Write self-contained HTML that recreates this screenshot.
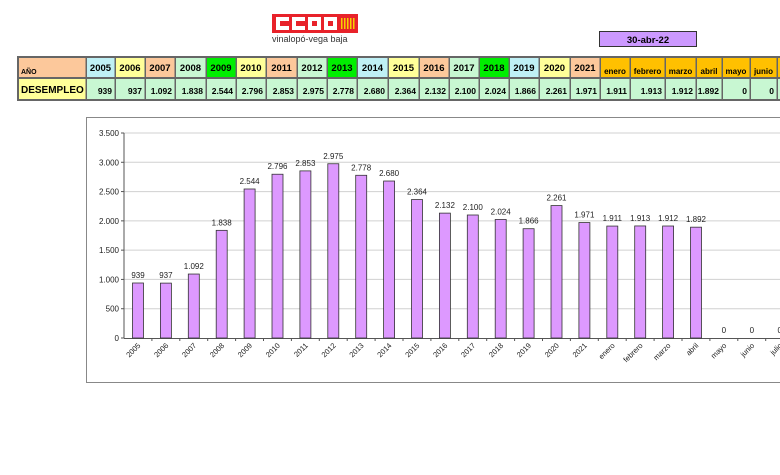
<!DOCTYPE html>
<html><head><meta charset="utf-8"><style>
body{margin:0;background:#fff;width:780px;height:470px;overflow:hidden;font-family:"Liberation Sans",Arial,sans-serif}
</style></head><body>
<svg id="s" width="780" height="470" xmlns="http://www.w3.org/2000/svg" font-family="Liberation Sans, Arial, sans-serif"></svg>
<script>
var s=document.getElementById('s'),h='';
// logo
h+='<rect x="272" y="14" width="86" height="19" fill="#e8222a"/>';
var lx=[276,292,308,324];
for(var i=0;i<4;i++){h+='<rect x="'+lx[i]+'" y="17" width="13" height="13" fill="#fff"/>';
 if(i<2)h+='<rect x="'+(lx[i]+4)+'" y="21" width="9" height="5" fill="#e8222a"/>';else h+='<rect x="'+(lx[i]+4)+'" y="21" width="5" height="5" fill="#e8222a"/>';}
for(var i=0;i<5;i++)h+='<rect x="'+(341+i*3)+'" y="18" width="1.5" height="11" fill="#f5d000"/>';
h+='<text x="272" y="42" font-size="9" fill="#333">vinalopó-vega baja</text>';
// date box
h+='<rect x="599.5" y="31.5" width="97" height="15" fill="#cc99ff" stroke="#333"/>';
h+='<text x="648" y="43" font-size="9.5" font-weight="bold" text-anchor="middle">30-abr-22</text>';
// table
var cols=[[18,86],[86,115],[115,145],[145,175],[175,206],[206,236],[236,266],[266,297],[297,327],[327,357],[357,388],[388,419],[419,449],[449,479],[479,509],[509,539],[539,570],[570,600],[600,630],[630,665],[665,696],[696,722],[722,750],[750,777],[777,800]];
var lab=['AÑO','2005','2006','2007','2008','2009','2010','2011','2012','2013','2014','2015','2016','2017','2018','2019','2020','2021','enero','febrero','marzo','abril','mayo','junio','julio'];
var vals=['DESEMPLEO','939','937','1.092','1.838','2.544','2.796','2.853','2.975','2.778','2.680','2.364','2.132','2.100','2.024','1.866','2.261','1.971','1.911','1.913','1.912','1.892','0','0','0'];
var C='#bff0f5',Y='#ffff99',P='#fcc89b',M='#c8f7d2',G='#00ee00',O='#ffc000';
var c1=['#fcc89b',C,Y,P,M,G,Y,P,M,G,C,Y,P,M,G,C,Y,P,O,O,O,O,O,O,O];
h+='<rect x="17" y="56" width="770" height="45" fill="#666"/>';
for(var i=0;i<cols.length;i++){var a=cols[i][0]+1,w=cols[i][1]-cols[i][0]-1.5;
 h+='<rect x="'+a+'" y="58" width="'+w+'" height="19" fill="'+c1[i]+'"/>';
 h+='<rect x="'+a+'" y="79" width="'+w+'" height="20" fill="'+(i==0?Y:M)+'"/>';
 if(i==0){h+='<text x="21" y="74" font-size="7" font-weight="bold">AÑO</text><text x="21" y="93" font-size="10" font-weight="bold">DESEMPLEO</text>';}
 else{var mon=i>=18;
 h+='<text x="'+(mon?(cols[i][0]+cols[i][1])/2:(cols[i][0]+cols[i][1])/2)+'" y="'+(mon?74:71)+'" font-size="'+(mon?8:9.5)+'" font-weight="bold" text-anchor="middle">'+lab[i]+'</text>';
 h+='<text x="'+(cols[i][1]-3)+'" y="94" font-size="8.5" font-weight="bold" text-anchor="end">'+vals[i]+'</text>';}
}
// chart box
h+='<rect x="86.5" y="117.5" width="700" height="265" fill="#fff" stroke="#888"/>';
var y0=338,k=205/3500;
for(var v=0;v<=3500;v+=500){var y=y0-v*k;
 if(v>0)h+='<line x1="124" x2="790" y1="'+y+'" y2="'+y+'" stroke="#d0d0d0"/>';
 h+='<line x1="121" x2="124" y1="'+y+'" y2="'+y+'" stroke="#555"/>';
 h+='<text x="119" y="'+(y+3)+'" font-size="8" text-anchor="end" fill="#222">'+(v>=1000?Math.floor(v/1000)+'.'+String(v%1000).padStart(3,'0'):v)+'</text>';}
h+='<line x1="124" x2="124" y1="133" y2="338" stroke="#555"/><line x1="124" x2="790" y1="338.5" y2="338.5" stroke="#555"/>';
var nums=[939,937,1092,1838,2544,2796,2853,2975,2778,2680,2364,2132,2100,2024,1866,2261,1971,1911,1913,1912,1892,0,0,0];
var sp=27.9;
for(var i=0;i<24;i++){var cx=138+i*sp,v=nums[i],y=y0-v*k;
 h+='<line x1="'+(124+(i+1)*sp)+'" x2="'+(124+(i+1)*sp)+'" y1="338" y2="341" stroke="#555"/>';
 if(v>0)h+='<rect x="'+(cx-5.5)+'" y="'+y+'" width="11" height="'+(y0-y)+'" fill="#dd99ff" stroke="#333" stroke-width="0.8"/>';
 h+='<text x="'+cx+'" y="'+(y-5)+'" font-size="8" text-anchor="middle" fill="#222">'+vals[i+1]+'</text>';
 h+='<text transform="translate('+(cx+3)+',346) rotate(-45)" font-size="7.5" text-anchor="end" fill="#222">'+lab[i+1]+'</text>';}
s.innerHTML=h;
</script>
</body></html>
